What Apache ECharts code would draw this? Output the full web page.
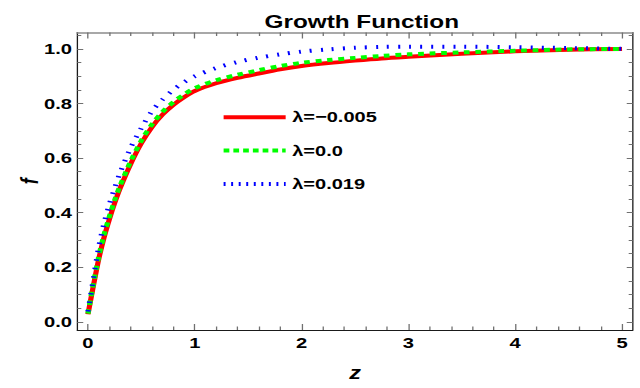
<!DOCTYPE html>
<html>
<head>
<meta charset="utf-8">
<script src="https://cdn.jsdelivr.net/npm/echarts@6/dist/echarts.min.js"></script>
<style>
  html, body { margin: 0; padding: 0; background: #fff; overflow: hidden; width: 640px; height: 388px; }
  /* the plot is laid out on a narrower canvas and widened to the page */
  #chart { width: 492px; height: 388px; transform: scaleX(1.300813); transform-origin: 0 0; }
</style>
</head>
<body>
<div id="chart"></div>
<script>
// redshift samples
const zValues = [0, 0.05, 0.1, 0.15, 0.2, 0.25, 0.3, 0.4, 0.5, 0.6, 0.7, 0.8, 0.9, 1.0,
                 1.2, 1.4, 1.6, 1.8, 2.0, 2.25, 2.5, 2.75, 3.0, 3.5, 4.0, 4.5, 5.0];

// growth function f(z) for each lambda
const fLambdaMinus005 = [0.028, 0.130, 0.228, 0.308, 0.375, 0.435, 0.488, 0.578, 0.654, 0.714, 0.760, 0.795, 0.823, 0.846,
                         0.874, 0.894, 0.910, 0.925, 0.937, 0.948, 0.957, 0.965, 0.971, 0.982, 0.991, 0.997, 1.000];
const fLambdaZero      = [0.030, 0.137, 0.237, 0.318, 0.385, 0.445, 0.498, 0.588, 0.664, 0.724, 0.770, 0.805, 0.833, 0.856,
                         0.885, 0.905, 0.922, 0.937, 0.949, 0.959, 0.967, 0.974, 0.980, 0.987, 0.993, 0.998, 1.000];
const fLambda019       = [0.038, 0.155, 0.272, 0.360, 0.430, 0.490, 0.545, 0.638, 0.710, 0.772, 0.815, 0.850, 0.878, 0.900,
                         0.930, 0.952, 0.968, 0.980, 0.990, 0.998, 1.004, 1.007, 1.008, 1.008, 1.006, 1.003, 1.000];

const seriesNames = ['λ=−0.005', 'λ=0.0', 'λ=0.019'];

// tick positions
const xMajorTicks = [0, 1, 2, 3, 4, 5];
const xMinorTicks = [0.2, 0.4, 0.6, 0.8, 1.2, 1.4, 1.6, 1.8, 2.2, 2.4, 2.6, 2.8,
                     3.2, 3.4, 3.6, 3.8, 4.2, 4.4, 4.6, 4.8];
const yMajorTicks = [0, 0.2, 0.4, 0.6, 0.8, 1.0];
const yMinorTicks = [0.05, 0.1, 0.15, 0.25, 0.3, 0.35, 0.45, 0.5, 0.55, 0.65, 0.7, 0.75,
                     0.85, 0.9, 0.95, 1.05];

const FONT = '"Liberation Sans", Arial, sans-serif';
const X_MIN = -0.1, X_MAX = 5.1;
const Y_MIN = -0.03, Y_MAX = 1.06;

function frameAxis(kind, position, ticks, tickLen, opts) {
  const o = opts || {};
  const axis = {
    type: 'value',
    position: position,
    min: kind === 'x' ? X_MIN : Y_MIN,
    max: kind === 'x' ? X_MAX : Y_MAX,
    axisLine: {
      show: !!o.line,
      onZero: false,
      lineStyle: { color: o.lineColor || '#1a1a1a', width: o.lineWidth || 1 }
    },
    axisTick: {
      show: true,
      inside: true,
      length: tickLen,
      customValues: ticks,
      lineStyle: { color: '#707070', width: 1 }
    },
    axisLabel: o.labels ? {
      show: true,
      customValues: ticks,
      margin: o.margin,
      formatter: o.formatter,
      fontFamily: FONT,
      fontSize: 15.5,
      fontWeight: 'bold',
      color: '#000'
    } : { show: false },
    splitLine: { show: false },
    minorTick: { show: false },
    name: o.name || '',
    nameLocation: 'middle',
    nameGap: o.nameGap || 0,
    nameTextStyle: {
      fontFamily: FONT,
      fontSize: 18,
      fontWeight: 'bold',
      fontStyle: 'italic',
      color: '#000'
    }
  };
  if (o.fixedName) axis.nameMoveOverlap = false;
  return axis;
}

function curve(name, values, color, dash, order) {
  return {
    type: 'line',
    name: name,
    xAxisIndex: 0,
    yAxisIndex: 0,
    data: zValues.map((z, i) => [z, values[i]]),
    showSymbol: false,
    symbol: 'none',
    smooth: 0.3,
    z: order,
    silent: true,
    itemStyle: { color: color },
    lineStyle: { color: color, width: 4, type: dash, cap: 'butt' }
  };
}

const chart = echarts.init(document.getElementById('chart'), null, { renderer: 'svg' });

chart.setOption({
  animation: false,
  backgroundColor: '#fff',
  title: {
    text: 'Growth Function',
    left: 273.1,
    top: 7,
    textAlign: 'center',
    textStyle: { fontFamily: FONT, fontSize: 18.7, fontWeight: 'bold', color: '#000' }
  },
  grid: {
    left: 59.4, right: 5.6, top: 32.5, bottom: 58,
    containLabel: false,
    outerBoundsMode: 'none'
  },
  legend: {
    orient: 'vertical',
    left: 169.9,
    top: 109.7,
    padding: 0,
    itemWidth: 47.7,
    itemHeight: 14,
    itemGap: 18.4,
    selectedMode: false,
    itemStyle: { opacity: 0 },
    data: [
      { name: seriesNames[0], lineStyle: { width: 4, type: 'solid' } },
      { name: seriesNames[1], lineStyle: { width: 4, type: [4.4, 3.1] } },
      { name: seriesNames[2], lineStyle: { width: 4, type: [1.5, 4.3] } }
    ],
    textStyle: {
      fontFamily: FONT,
      fontSize: 15.4,
      fontWeight: 'bold',
      color: '#000'
    }
  },
  xAxis: [
    frameAxis('x', 'bottom', xMajorTicks, 6, {
      line: true, labels: true, margin: 5,
      formatter: v => String(v),
      name: 'z', nameGap: 34
    }),
    frameAxis('x', 'bottom', xMinorTicks, 3.5),
    frameAxis('x', 'top', xMajorTicks, 6, { line: true, lineColor: '#8c8c8c', lineWidth: 1.5 }),
    frameAxis('x', 'top', xMinorTicks, 3.5)
  ],
  yAxis: [
    frameAxis('y', 'left', yMajorTicks, 4.6, {
      line: true, labels: true, margin: 4,
      formatter: v => v.toFixed(1),
      name: 'f', nameGap: 28, fixedName: true
    }),
    frameAxis('y', 'left', yMinorTicks, 3.1),
    frameAxis('y', 'right', yMajorTicks, 4.6, { line: true }),
    frameAxis('y', 'right', yMinorTicks, 3.1)
  ],
  series: [
    curve(seriesNames[0], fLambdaMinus005, '#ff0000', 'solid', 1),
    curve(seriesNames[1], fLambdaZero, '#00ff00', [4.4, 4.4], 2),
    curve(seriesNames[2], fLambda019, '#0000ff', [1.5, 7], 3)
  ]
});
</script>
</body>
</html>
